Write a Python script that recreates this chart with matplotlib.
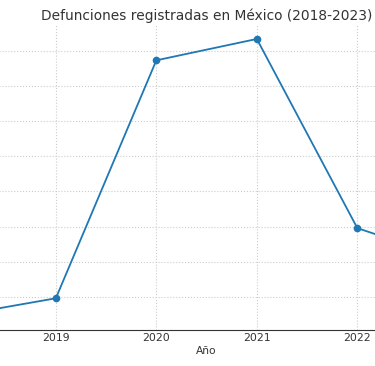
import matplotlib.pyplot as plt

anios = [2018, 2019, 2020, 2021, 2022, 2023]
defunciones = [722611, 747784, 1086743, 1117167, 847716, 799869]

texto = '#333333'

fig = plt.figure(figsize=(3.75, 3.66), dpi=100)
ax = fig.add_axes([-0.1861, 0.0989, 1.474, 0.8325])

ax.plot(anios, defunciones, marker='o', markersize=4.5, linewidth=1.3, color='#1f77b4')

ax.set_title('Defunciones registradas en México (2018-2023)', fontsize=9.9, color=texto, pad=4)
ax.set_xlabel('Año', fontsize=7.7, color=texto, labelpad=2)
ax.set_xticks(anios)
ax.tick_params(axis='x', labelsize=7.8, colors=texto, length=0, pad=2.2)
ax.tick_params(axis='y', labelsize=7.8, colors=texto, length=0)
ax.grid(True, linestyle=':', color='#cccccc', linewidth=0.8)

for s in ['top', 'right']:
    ax.spines[s].set_visible(False)
ax.spines['bottom'].set_color(texto)
ax.spines['left'].set_color(texto)

fig.savefig('out.png', dpi=100)
